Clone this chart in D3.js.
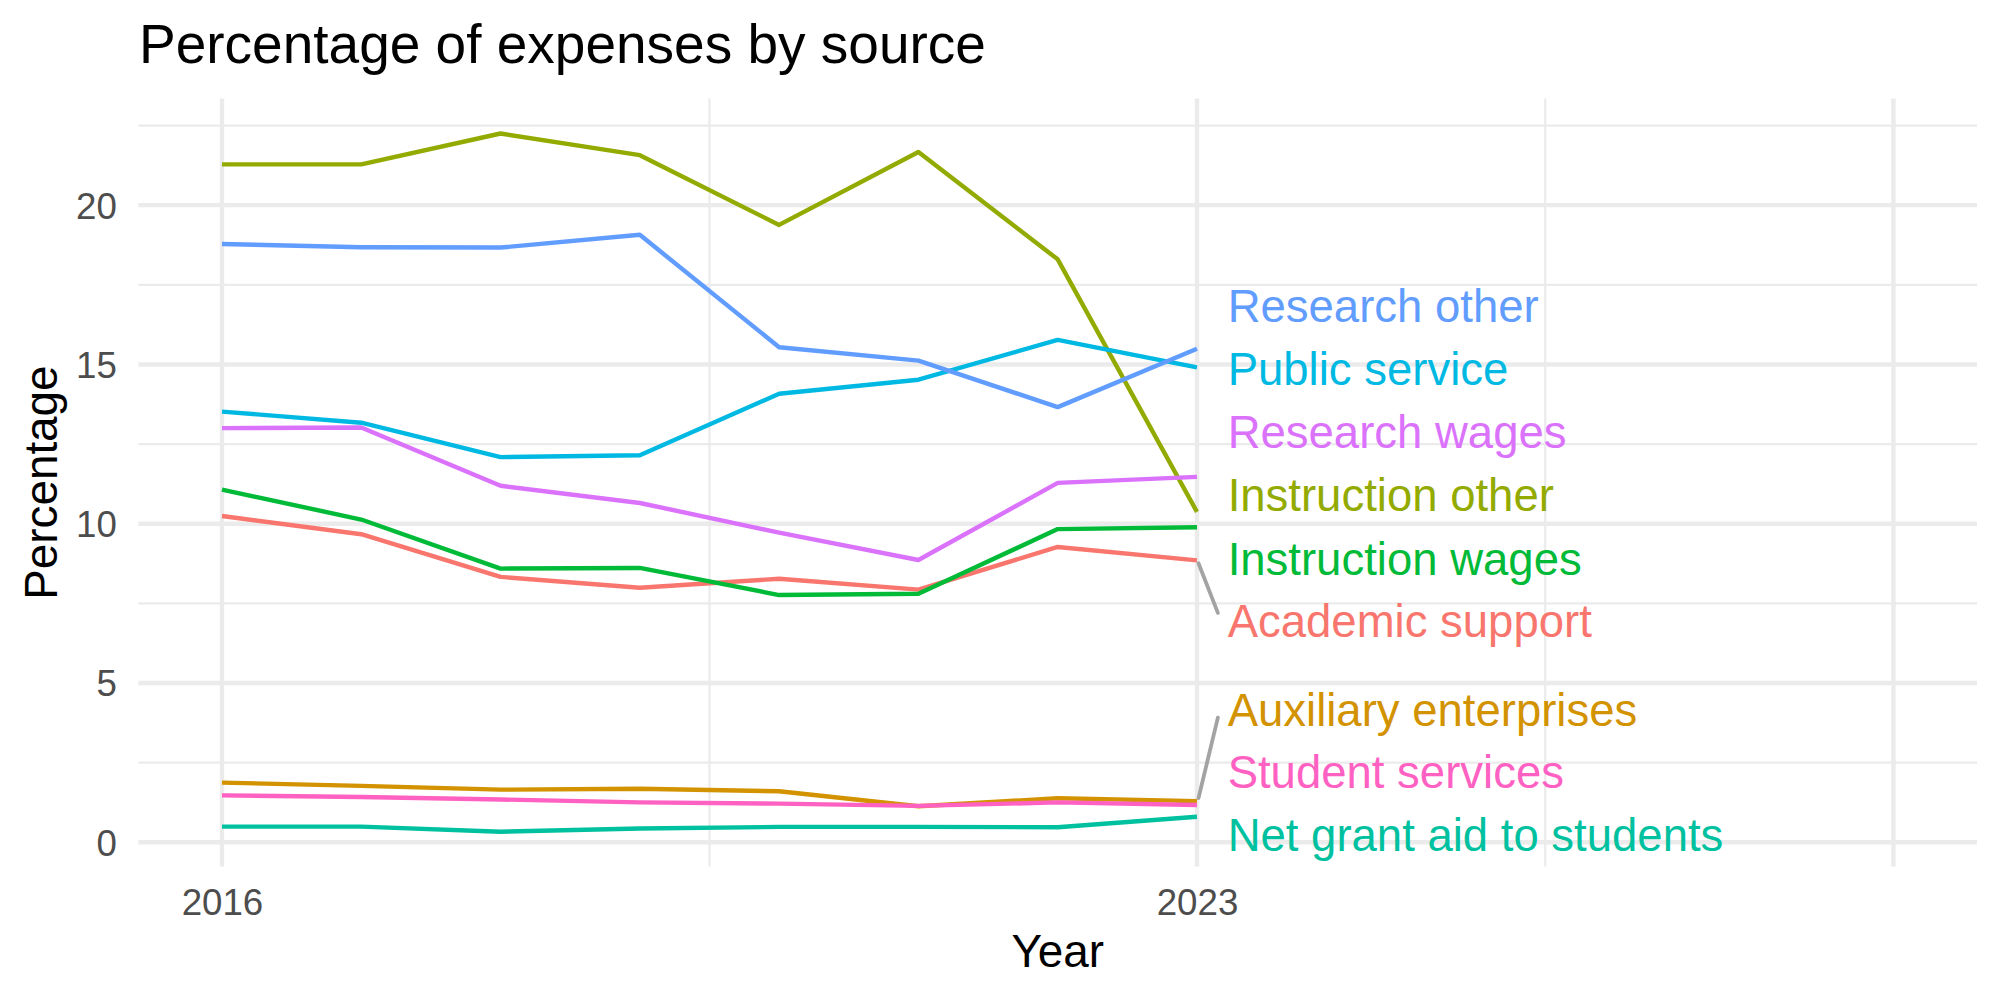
<!DOCTYPE html>
<html>
<head>
<meta charset="utf-8">
<script src="https://cdn.jsdelivr.net/npm/d3@7"></script>
<style>
  html, body { margin: 0; padding: 0; background: #ffffff; }
  svg { display: block; }
  text { font-family: "Liberation Sans", Arial, Helvetica, sans-serif; }
</style>
</head>
<body>
<svg id="chart" width="2000" height="1000"></svg>
<script>
// ---- data ----
const years = [2016, 2017, 2018, 2019, 2020, 2021, 2022, 2023];
const seriesNames = [
  "Academic support", "Auxiliary enterprises", "Instruction other", "Instruction wages",
  "Net grant aid to students", "Public service", "Research other", "Research wages", "Student services"
];
const academicSupport      = [10.24, 9.67, 8.33, 7.99, 8.27, 7.93, 9.27, 8.85];
const auxiliaryEnterprises = [1.87, 1.77, 1.65, 1.68, 1.60, 1.13, 1.38, 1.29];
const instructionOther     = [21.28, 21.28, 22.25, 21.57, 19.38, 21.67, 18.30, 10.37];
const instructionWages     = [11.07, 10.13, 8.59, 8.61, 7.76, 7.80, 9.83, 9.89];
const netGrantAid          = [0.49, 0.49, 0.33, 0.43, 0.48, 0.48, 0.47, 0.80];
const publicService        = [13.52, 13.17, 12.09, 12.15, 14.08, 14.52, 15.77, 14.91];
const researchOther        = [18.78, 18.68, 18.67, 19.07, 15.54, 15.12, 13.66, 15.49];
const researchWages        = [13.00, 13.02, 11.19, 10.65, 9.72, 8.86, 11.28, 11.47];
const studentServices      = [1.47, 1.42, 1.34, 1.25, 1.21, 1.14, 1.25, 1.17];
const seriesValues = [academicSupport, auxiliaryEnterprises, instructionOther, instructionWages,
  netGrantAid, publicService, researchOther, researchWages, studentServices];
const seriesColors = ["#F8766D", "#D39200", "#93AA00", "#00BA38", "#00C19F", "#00B9E3", "#619CFF", "#DB72FB", "#FF61C3"];
// repelled label positions (y value of each label, in the same order as seriesNames)
const labelValues = [6.95, 4.16, 10.90, 8.90, 0.23, 14.85, 16.83, 12.87, 2.20];
const labelYear = 2023.22;
const xMajorBreaks = [2016, 2023, 2028];
const xTickLabels = ["2016", "2023", ""];
const xMinorBreaks = [2019.5, 2025.5];
const yMajorBreaks = [0, 5, 10, 15, 20];
const yMinorBreaks = [2.5, 7.5, 12.5, 17.5, 22.5];
const titleText = "Percentage of expenses by source";
const xTitle = "Year";
const yTitle = "Percentage";

// ---- layout ----
const panel = { left: 138.4, right: 1977, top: 98.6, bottom: 866.6 };
const svg = d3.select("#chart");

const x = d3.scaleLinear().domain([2015.4, 2028.6]).range([panel.left, panel.right]);
const y = d3.scaleLinear().domain([-0.766, 23.346]).range([panel.bottom, panel.top]);

const grid = svg.append("g");
// minor gridlines
grid.selectAll("line.ymin").data(yMinorBreaks).join("line")
  .attr("x1", panel.left).attr("x2", panel.right)
  .attr("y1", d => y(d)).attr("y2", d => y(d))
  .attr("stroke", "#EBEBEB").attr("stroke-width", 2.2);
grid.selectAll("line.xmin").data(xMinorBreaks).join("line")
  .attr("y1", panel.top).attr("y2", panel.bottom)
  .attr("x1", d => x(d)).attr("x2", d => x(d))
  .attr("stroke", "#EBEBEB").attr("stroke-width", 2.2);
// major gridlines
grid.selectAll("line.ymaj").data(yMajorBreaks).join("line")
  .attr("x1", panel.left).attr("x2", panel.right)
  .attr("y1", d => y(d)).attr("y2", d => y(d))
  .attr("stroke", "#EBEBEB").attr("stroke-width", 4.4);
grid.selectAll("line.xmaj").data(xMajorBreaks).join("line")
  .attr("y1", panel.top).attr("y2", panel.bottom)
  .attr("x1", d => x(d)).attr("x2", d => x(d))
  .attr("stroke", "#EBEBEB").attr("stroke-width", 4.4);

// axes (tick labels only)
const xAxis = d3.axisBottom(x).tickValues(xMajorBreaks)
  .tickFormat((d, i) => xTickLabels[i]).tickSize(0).tickPadding(0);
const gx = svg.append("g").attr("transform", `translate(0,${panel.bottom})`).call(xAxis);
gx.select(".domain").remove();
gx.selectAll("text").attr("font-size", 36.7).attr("fill", "#4D4D4D")
  .attr("font-family", "Liberation Sans, Arial, sans-serif")
  .attr("dy", null).attr("y", 48.5);

const yAxis = d3.axisLeft(y).tickValues(yMajorBreaks).tickSize(0).tickPadding(0);
const gy = svg.append("g").attr("transform", `translate(${panel.left - 21.5},0)`).call(yAxis);
gy.select(".domain").remove();
gy.selectAll("text").attr("font-size", 36.7).attr("fill", "#4D4D4D")
  .attr("font-family", "Liberation Sans, Arial, sans-serif")
  .attr("x", 0).attr("dy", "0.35em");

// lines
const lineGen = d3.line().x((d, i) => x(years[i])).y(d => y(d));
const seriesData = seriesNames.map((name, k) => ({ name, values: seriesValues[k], color: seriesColors[k], label: labelValues[k] }));
svg.append("g").selectAll("path").data(seriesData).join("path")
  .attr("d", d => lineGen(d.values))
  .attr("fill", "none").attr("stroke", d => d.color)
  .attr("stroke-width", 4.4).attr("stroke-linejoin", "round").attr("stroke-linecap", "butt");

// label segments (only where label is far from its point)
const lastIdx = years.length - 1;
const segData = seriesData.filter(d => Math.abs(d.label - d.values[lastIdx]) > 1.5);
svg.append("g").selectAll("line").data(segData).join("line")
  .attr("x1", x(years[lastIdx]) + 1.5)
  .attr("y1", d => y(d.values[lastIdx]) + (d.label < d.values[lastIdx] ? 3 : -3))
  .attr("x2", x(2023.15))
  .attr("y2", d => y(d.label + Math.sign(d.values[lastIdx] - d.label) * 0.25))
  .attr("stroke", "#A3A3A3").attr("stroke-width", 3.8).attr("stroke-linecap", "round");

// labels
svg.append("g").selectAll("text").data(seriesData).join("text")
  .attr("x", x(labelYear))
  .attr("y", d => y(d.label))
  .attr("dy", "0.35em")
  .attr("font-size", 45.5)
  .attr("fill", d => d.color)
  .text(d => d.name);

// titles
svg.append("text").attr("x", 139).attr("y", 62.7)
  .attr("font-size", 55).attr("fill", "#000").text(titleText);
svg.append("text").attr("x", (panel.left + panel.right) / 2).attr("y", 966.5)
  .attr("text-anchor", "middle").attr("font-size", 45.8).attr("fill", "#000").text(xTitle);
svg.append("text")
  .attr("transform", `translate(57,${(panel.top + panel.bottom) / 2}) rotate(-90)`)
  .attr("text-anchor", "middle").attr("font-size", 45.8).attr("fill", "#000").text(yTitle);
</script>
</body>
</html>
